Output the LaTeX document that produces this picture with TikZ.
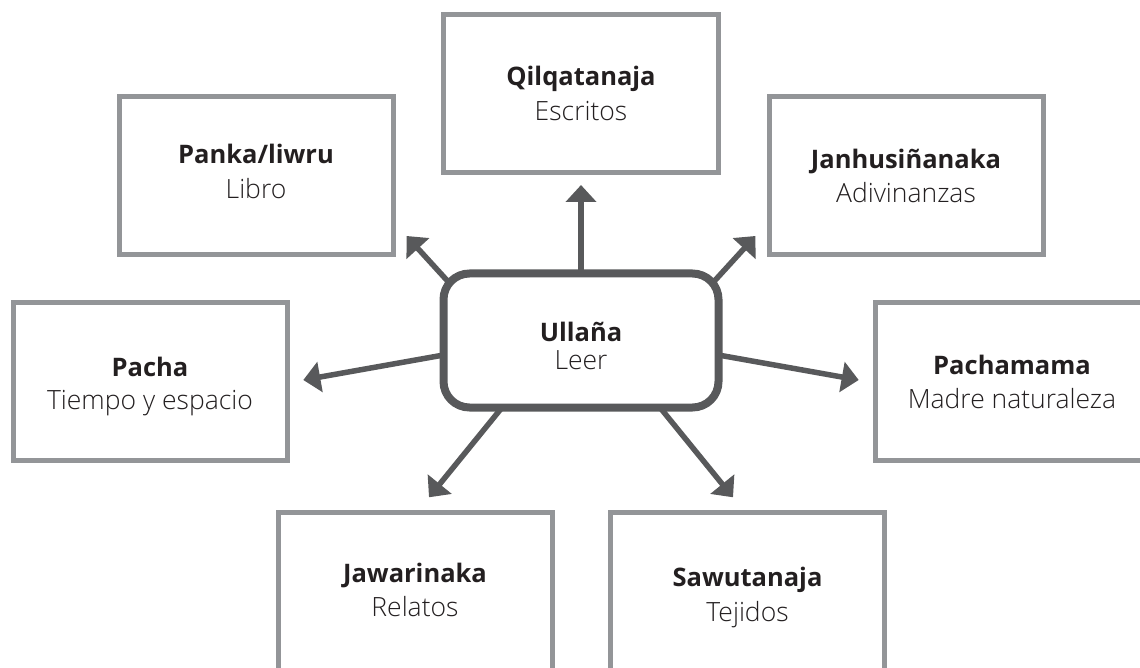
\documentclass[tikz,border=0pt]{standalone}
\usepackage{fontspec}
\setmainfont{Open Sans}
\newfontfamily\lightfont{Open Sans Light}
\usetikzlibrary{arrows.meta,calc,backgrounds}
\definecolor{boxgray}{HTML}{939598}
\definecolor{darkline}{HTML}{58595B}
\definecolor{textblack}{HTML}{231F20}
\begin{document}
\begin{tikzpicture}[x=1pt,y=-1pt,
  outerbox/.style={draw=boxgray, line width=5pt, fill=white, minimum width=274pt, minimum height=158pt, inner sep=0pt},
  centerbox/.style={draw=darkline, line width=8pt, rounded corners=26pt, fill=white, minimum width=275pt, minimum height=134pt, inner sep=0pt},
  titletext/.style={anchor=base, inner sep=0pt, font=\fontsize{25.5}{30}\selectfont\bfseries, text=textblack},
  subtext/.style={anchor=base, inner sep=0pt, font=\fontsize{26.5}{30}\selectfont\lightfont, text=textblack},
  conn/.style={draw=darkline, line width=5.5pt, -{Triangle[width=30pt,length=17pt]}},
]
\useasboundingbox (0,0) rectangle (1140,668);
\clip (0,0) rectangle (1140,668);

% outer boxes
\node[outerbox, minimum width=275pt] (qilq) at (581,94) {};
\node[outerbox] (panka) at (256,175.5) {};
\node[outerbox] (janhus) at (906,175.5) {};
\node[outerbox] (pacha) at (150,381) {};
\node[outerbox] (pachamama) at (1012,381) {};
\node[outerbox] (jawar) at (415,591.5) {};
\node[outerbox] (sawu) at (747.5,591.5) {};

% central box
\node[centerbox] (c) at (581,340.5) {};

% connector start points inside the central box
\coordinate (s0) at ($(c.center)+(0,-50)$);
\coordinate (s1) at ($(c.center)+(-119.3,-44)$);
\coordinate (s2) at ($(c.center)+(119.3,-44)$);
\coordinate (s3) at ($(c.center)+(-121,11.6)$);
\coordinate (s4) at ($(c.center)+(121,11.6)$);
\coordinate (s5) at ($(c.center)+(-70.3,56.3)$);
\coordinate (s6) at ($(c.center)+(70.3,56.3)$);
% free ends (arrow tips)
\coordinate (t0) at (581,185);
\coordinate (t1) at (406.5,236);
\coordinate (t2) at (755.5,236);
\coordinate (t3) at (303.3,380);
\coordinate (t4) at (858.7,380);
\coordinate (t5) at (429,497.3);
\coordinate (t6) at (733,497.3);

\begin{scope}[on background layer]
  \draw[conn] (s0) -- (t0);
  \draw[conn] (s1) -- (t1);
  \draw[conn] (s2) -- (t2);
  \draw[conn] (s3) -- (t3);
  \draw[conn] (s4) -- (t4);
  \draw[conn] (s5) -- (t5);
  \draw[conn] (s6) -- (t6);
\end{scope}

% texts
\node[titletext] (qilqT) at (581,86) {Qilqatanaja};
\node[subtext] (qilqS) at (581,120.7) {Escritos};
\node[titletext] (pankaT) at (256,164) {Panka/liwru};
\node[subtext] (pankaS) at (256,199) {Libro};
\node[titletext] (janhusT) at (906,168.3) {Janhusiñanaka};
\node[subtext] (janhusS) at (906,202.3) {Adivinanzas};
\node[titletext] (pachaT) at (150,376) {Pacha};
\node[subtext] (pachaS) at (150,409) {Tiempo y espacio};
\node[titletext] (pachamamaT) at (1012,374.3) {Pachamama};
\node[subtext] (pachamamaS) at (1012,408.3) {Madre naturaleza};
\node[titletext] (cT) at (581,341) {Ullaña};
\node[subtext] (cS) at (581,369.3) {Leer};
\node[titletext] (jawarT) at (415,582) {Jawarinaka};
\node[subtext] (jawarS) at (415,616.7) {Relatos};
\node[titletext] (sawuT) at (747.5,586) {Sawutanaja};
\node[subtext] (sawuS) at (747.5,621.5) {Tejidos};
\end{tikzpicture}
\end{document}
